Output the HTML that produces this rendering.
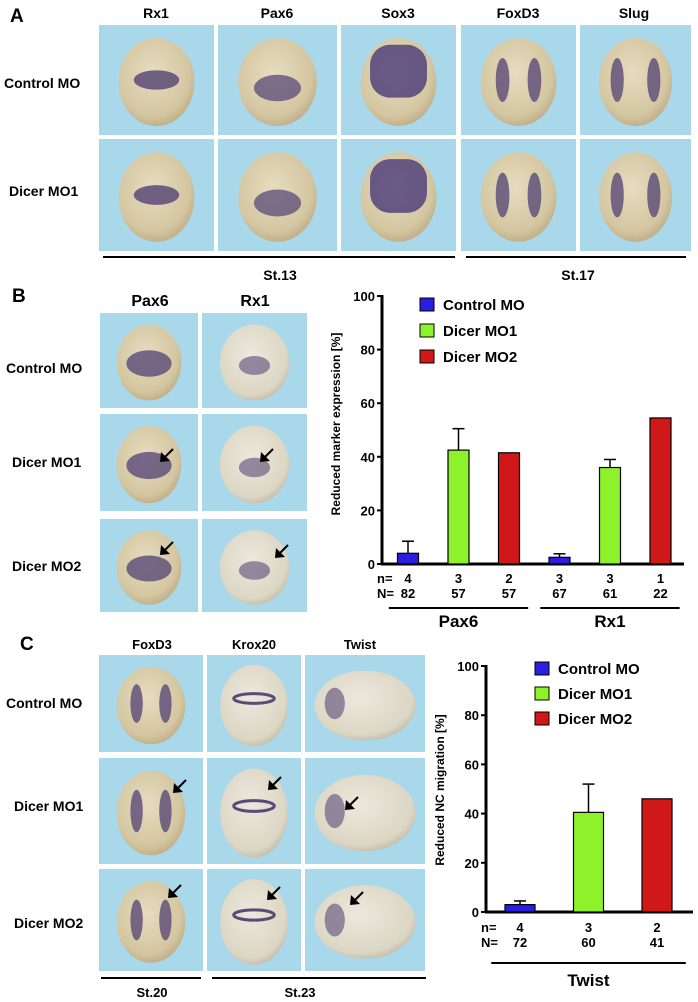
<!DOCTYPE html>
<html><head><meta charset="utf-8"><style>
html,body{margin:0;padding:0;background:#fff;}
svg{display:block;font-family:"Liberation Sans",Arial,sans-serif;font-weight:bold;}
</style></head><body>
<svg id="fig" width="698" height="1002" viewBox="0 0 698 1002">
<defs>
<radialGradient id="emb" cx="0.45" cy="0.4" r="0.65"><stop offset="0" stop-color="#e6dcc0"/><stop offset="0.75" stop-color="#d4c6a0"/><stop offset="1" stop-color="#b9a883"/></radialGradient>
<radialGradient id="emb2" cx="0.45" cy="0.4" r="0.65"><stop offset="0" stop-color="#ece8dc"/><stop offset="0.8" stop-color="#dcd6c4"/><stop offset="1" stop-color="#bdb5a0"/></radialGradient>
</defs>
<g id="photos"></g>
<g id="labels" font-size="14" fill="#000">
 <text x="10" y="22" font-size="19">A</text>
 <text x="156" y="18" text-anchor="middle">Rx1</text>
 <text x="277" y="18" text-anchor="middle">Pax6</text>
 <text x="398" y="18" text-anchor="middle">Sox3</text>
 <text x="518" y="18" text-anchor="middle">FoxD3</text>
 <text x="634" y="18" text-anchor="middle">Slug</text>
 <text x="4" y="88">Control MO</text>
 <text x="9" y="196">Dicer MO1</text>
 <rect x="103" y="256" width="352" height="2"/>
 <rect x="466" y="256" width="220" height="2"/>
 <text x="280" y="280" text-anchor="middle">St.13</text>
 <text x="578" y="280" text-anchor="middle">St.17</text>

 <text x="12" y="302" font-size="19">B</text>
 <text x="150" y="306" text-anchor="middle" font-size="16">Pax6</text>
 <text x="255" y="306" text-anchor="middle" font-size="16">Rx1</text>
 <text x="6" y="373">Control MO</text>
 <text x="12" y="467">Dicer MO1</text>
 <text x="12" y="571">Dicer MO2</text>

 <text x="20" y="650" font-size="19">C</text>
 <text x="152" y="649" text-anchor="middle" font-size="13">FoxD3</text>
 <text x="254" y="649" text-anchor="middle" font-size="13">Krox20</text>
 <text x="360" y="649" text-anchor="middle" font-size="13">Twist</text>
 <text x="6" y="708">Control MO</text>
 <text x="14" y="811">Dicer MO1</text>
 <text x="14" y="928">Dicer MO2</text>
 <rect x="101" y="977" width="100" height="2"/>
 <rect x="212" y="977" width="214" height="2"/>
 <text x="152" y="997" text-anchor="middle" font-size="13">St.20</text>
 <text x="300" y="997" text-anchor="middle" font-size="13">St.23</text>
</g>
<g id="chartB"></g>
<g id="chartC"></g>
</svg>
<script>
// ---- Chart B data ----
const bGroups = ["Pax6", "Rx1"];
const bSeries = ["Control MO", "Dicer MO1", "Dicer MO2"];
const bPax6 = [4, 42.5, 41.5];
const bRx1 = [2.5, 36, 54.5];
const bPax6Err = [4.5, 8, 0];
const bRx1Err = [1.3, 3, 0];
const bSmallN = [["4","3","2"],["3","3","1"]];
const bBigN = [["82","57","57"],["67","61","22"]];
const yTicks = [0, 20, 40, 60, 80, 100];
// ---- Chart C data ----
const cGroups = ["Twist"];
const cVals = [3, 40.5, 46];
const cErr = [1.5, 11.5, 0];
const cSmallN = ["4","3","2"];
const cBigN = ["72","60","41"];
const colors = ["#2a1fe0", "#8ef22a", "#d01818"];
</script>
<script>
const NS = "http://www.w3.org/2000/svg";
function mk(tag, attrs, parent, text) {
  const e = document.createElementNS(NS, tag);
  for (const k in attrs) e.setAttribute(k, attrs[k]);
  if (text !== undefined) e.textContent = text;
  parent.appendChild(e);
  return e;
}
const photos = document.getElementById('photos');
const tiles = [
 [99,25,115,110,'rx',1],[218,25,119,110,'pax',1],[341,25,115,110,'sox',1],[461,25,115,110,'fox',1],[580,25,111,110,'slug',1],
 [99,139,115,112,'rx',1],[218,139,119,112,'pax',1],[341,139,115,112,'sox',1],[461,139,115,112,'fox',1],[580,139,111,112,'slug',1],
 [100,313,98,95,'bpax',1],[202,313,105,95,'brx',2],
 [100,414,98,97,'bpax',1],[202,414,105,97,'brx',2],
 [100,519,98,93,'bpax',1],[202,519,105,93,'brx',2],
 [99,655,104,97,'cfox',1],[207,655,94,97,'krox',2],[305,655,120,97,'twist',2],
 [99,758,104,106,'cfox',1],[207,758,94,106,'krox',2],[305,758,120,106,'twist',2],
 [99,869,104,102,'cfox',1],[207,869,94,102,'krox',2],[305,869,120,102,'twist',2]
];
tiles.forEach((t) => {
  const [x,y,w,h,kind,b] = t;
  const g = mk('g', {}, photos);
  
  
  mk('rect', {x, y, width: w, height: h, fill: '#a9d8ea'}, g);
  const cx = x + w/2, cy = y + h/2;
  const fill = b === 1 ? 'url(#emb)' : 'url(#emb2)';
  let rx = w*0.33, ry = h*0.4;
  if (kind === 'twist') { rx = w*0.42; ry = h*0.36; }
  if (kind === 'krox') { rx = w*0.36; ry = h*0.42; }
  mk('ellipse', {cx, cy: cy+2, rx, ry, fill}, g);
  const P = '#5a4a78';
  if (kind === 'rx') mk('ellipse', {cx, cy, rx: rx*0.6, ry: ry*0.22, fill: P, opacity: 0.85}, g);
  if (kind === 'pax') { mk('ellipse', {cx, cy: cy+8, rx: rx*0.6, ry: ry*0.3, fill: P, opacity: 0.75}, g); }
  if (kind === 'sox') mk('rect', {x: cx-rx*0.75, y: cy-ry*0.8, width: rx*1.5, height: ry*1.2, rx: 20, fill: '#4a3a78', opacity: 0.8}, g);
  if (kind === 'fox' || kind === 'slug' || kind === 'cfox') {
    const s = kind === 'slug' ? 0.5 : 0.42;
    mk('ellipse', {cx: cx-rx*s, cy, rx: rx*0.18, ry: ry*0.5, fill: P, opacity: 0.8}, g);
    mk('ellipse', {cx: cx+rx*s, cy, rx: rx*0.18, ry: ry*0.5, fill: P, opacity: 0.8}, g);
  }
  if (kind === 'bpax') mk('ellipse', {cx, cy: cy+3, rx: rx*0.7, ry: ry*0.35, fill: P, opacity: 0.8}, g);
  if (kind === 'brx') mk('ellipse', {cx, cy: cy+5, rx: rx*0.45, ry: ry*0.25, fill: P, opacity: 0.6}, g);
  if (kind === 'krox') mk('ellipse', {cx, cy: cy-5, rx: rx*0.6, ry: ry*0.12, fill: 'none', stroke: P, 'stroke-width': 3}, g);
  if (kind === 'twist') mk('ellipse', {cx: cx-rx*0.6, cy, rx: rx*0.2, ry: ry*0.45, fill: P, opacity: 0.6}, g);
});
[[160,462],[260,462],[160,555],[275,558],[173,793],[268,790],[345,810],[168,898],[267,900],[350,905]].forEach(a => {
  const g = mk('g', {}, photos);
  
  
  mk('line', {x1: a[0]+13, y1: a[1]-13, x2: a[0]+3, y2: a[1]-3, stroke: '#000', 'stroke-width': 2}, g);
  mk('polygon', {points: `${a[0]},${a[1]} ${a[0]+1},${a[1]-10} ${a[0]+10},${a[1]-1}`, fill: '#000'}, g);
});

function drawChart(root, opt) {
  const y = v => opt.y0 - (opt.y0 - opt.y100) * v / 100;
  mk('line', {x1: opt.ax, y1: y(100)-1, x2: opt.ax, y2: opt.y0, stroke: '#000', 'stroke-width': 3}, root);
  mk('line', {x1: opt.ax-1, y1: opt.y0, x2: opt.axEnd, y2: opt.y0, stroke: '#000', 'stroke-width': 3}, root);
  yTicks.forEach(v => {
    const l = mk('line', {x1: opt.ax-5, y1: y(v), x2: opt.ax, y2: y(v), stroke: '#000', 'stroke-width': 2}, root);
    
    
    const t = mk('text', {x: opt.ax-7, y: y(v)+5, 'text-anchor': 'end', 'font-size': 13}, root, String(v));
    
    
  });
  const yt = mk('text', {x: opt.titleX, y: opt.titleY, 'text-anchor': 'middle', 'font-size': 12, transform: `rotate(-90 ${opt.titleX} ${opt.titleY})`}, root, opt.title);
  
  
  opt.groups.forEach((grp, gi) => {
    grp.vals.forEach((v, si) => {
      const cx = opt.start + (gi * 3 + si) * opt.step;
      const top = y(v);
      const err = grp.err[si];
      if (err > 0) {
        const e1 = mk('line', {x1: cx, y1: top, x2: cx, y2: y(v+err), stroke: '#000', 'stroke-width': 1.5}, root);
        
        
        mk('line', {x1: cx-6, y1: y(v+err), x2: cx+6, y2: y(v+err), stroke: '#000', 'stroke-width': 1.5}, root);
      }
      const r = mk('rect', {x: cx - opt.bw/2, y: top, width: opt.bw, height: opt.y0 - top, fill: colors[si], stroke: '#000', 'stroke-width': 1.2}, root);
      
      
      const n1 = mk('text', {x: cx, y: opt.nY, 'text-anchor': 'middle', 'font-size': 13}, root, grp.n[si]);
      
      
      const n2 = mk('text', {x: cx, y: opt.nY+15, 'text-anchor': 'middle', 'font-size': 13}, root, grp.N[si]);
      
      
    });
    const x0 = opt.start + gi*3*opt.step - opt.step*opt.pad;
    const x1 = opt.start + (gi*3+2)*opt.step + opt.step*opt.pad;
    mk('line', {x1: x0, y1: opt.lineY, x2: x1, y2: opt.lineY, stroke: '#000', 'stroke-width': 2}, root);
    const gl = mk('text', {x: (x0+x1)/2, y: opt.lineY+opt.glOff, 'text-anchor': 'middle', 'font-size': 17}, root, grp.name);
    
    
  });
  const nl = mk('text', {x: opt.ax-5, y: opt.nY, 'font-size': 13}, root, 'n=');
  
  
  const Nl = mk('text', {x: opt.ax-5, y: opt.nY+15, 'font-size': 13}, root, 'N=');
  
  
  bSeries.forEach((s, i) => {
    const ly = opt.legY + i * opt.legStep;
    const b = mk('rect', {x: opt.legX, y: ly, width: 14, height: 13, fill: colors[i], stroke: '#000', 'stroke-width': 1}, root);
    
    
    const t = mk('text', {x: opt.legX + 23, y: ly + 12, 'font-size': 15}, root, s);
    
    
  });
}
drawChart(document.getElementById('chartB'), {
  ax: 382, axEnd: 684, y0: 564, y100: 296, start: 408, step: 50.5, bw: 21, pad: 0.38, glOff: 19,
  nY: 583, lineY: 608, title: 'Reduced marker expression [%]', titleX: 340, titleY: 424,
  legX: 420, legY: 298, legStep: 26,
  groups: [
    {name: bGroups[0], vals: bPax6, err: bPax6Err, n: bSmallN[0], N: bBigN[0]},
    {name: bGroups[1], vals: bRx1, err: bRx1Err, n: bSmallN[1], N: bBigN[1]}
  ]
});
drawChart(document.getElementById('chartC'), {
  ax: 486, axEnd: 693, y0: 912, y100: 666, start: 520, step: 68.5, bw: 30, pad: 0.42, glOff: 23,
  nY: 932, lineY: 963, title: 'Reduced NC migration [%]', titleX: 444, titleY: 790,
  legX: 535, legY: 662, legStep: 25,
  groups: [{name: cGroups[0], vals: cVals, err: cErr, n: cSmallN, N: cBigN}]
});
</script>
</body></html>
